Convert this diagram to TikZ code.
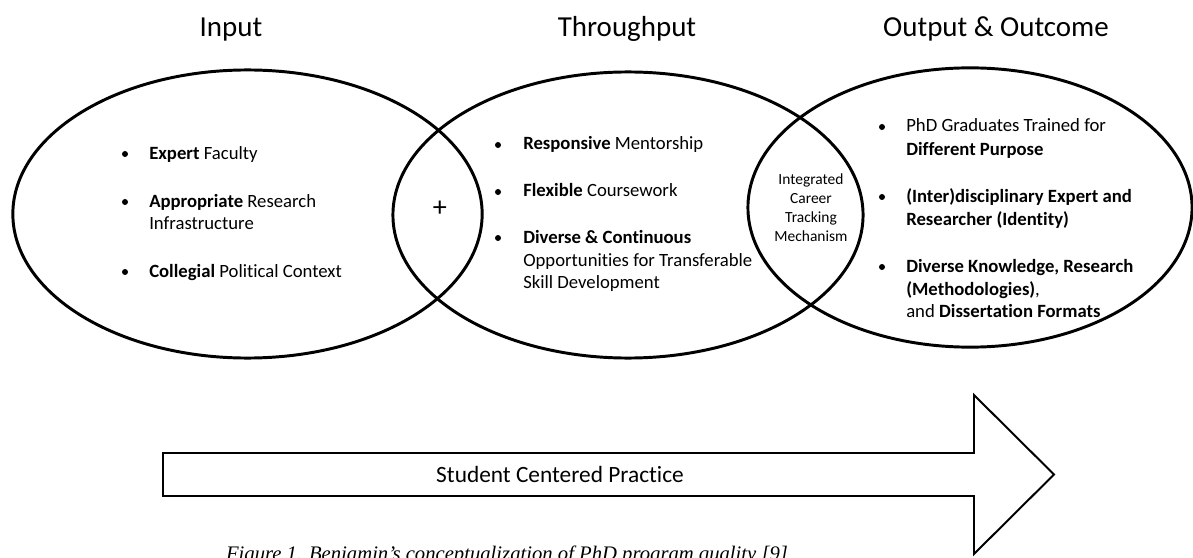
\documentclass[tikz,border=0pt]{standalone}
\usepackage{fontspec}
\setmainfont{Carlito}[Ligatures={TeX,NoCommon}]
\newfontfamily\capfont{Liberation Serif}
\usepackage{tikz}
\usetikzlibrary{shapes.geometric}

\tikzset{
  ring/.style={draw, ellipse, line width=2.1pt, inner sep=0pt},
  heading/.style={font=\fontsize{20.6}{24}\selectfont, anchor=base},
  item/.style={font=\fontsize{13.3}{16}\selectfont, anchor=base west, inner sep=0pt},
  dot/.style={circle, fill, inner sep=0pt, minimum size=0.15cm},
}

\begin{document}
\begin{tikzpicture}[x=0.025cm, y=-0.025cm]
  \path[fill=white, use as bounding box] (0,0) rectangle (1193,558);

  % the three stages
  \node[ring, minimum width=11.73cm, minimum height=7.2cm] (input) at (247.5,214) {};
  \node[ring, minimum width=11.75cm, minimum height=7.15cm] (through) at (628,215) {};
  \node[ring, minimum width=11.1cm, minimum height=6.98cm] (output) at (970,207.5) {};

  \node[heading] (inputtitle) at (231,37) {Input};
  \node[heading] (throughtitle) at (627,37) {Throughput};
  \node[heading] (outputtitle) at (996,37) {Output \& Outcome};

  % input
  \node[dot] (d1) at (125,154) {};
  \node[item] (expert) at (149,159) {\textbf{Expert} Faculty};
  \node[dot] (d2) at (125,202) {};
  \node[item] (infra) at (149,207) {\textbf{Appropriate} Research};
  \node[item] (infrab) at (149,229) {Infrastructure};
  \node[dot] (d3) at (125,272) {};
  \node[item] (context) at (149,277) {\textbf{Collegial} Political Context};

  \node[font=\fontsize{20}{24}\selectfont] (plus) at (440,209) {+};

  % throughput
  \node[dot] (d4) at (498,145) {};
  \node[item] (mentor) at (523,150) {\textbf{Responsive} Mentorship};
  \node[dot] (d5) at (498,192) {};
  \node[item] (course) at (523,197) {\textbf{Flexible} Coursework};
  \node[dot] (d6) at (498,238) {};
  \node[item] (skill) at (523,243) {\textbf{Diverse \& Continuous}};
  \node[item] (skillb) at (523,266) {Opportunities for Transferable};
  \node[item] (skillc) at (523,288) {Skill Development};

  \node[align=center, font=\fontsize{11}{13.5}\selectfont] (career) at (811,208)
    {Integrated\\Career\\Tracking\\Mechanism};

  % output & outcome
  \node[dot] (d7) at (882,127) {};
  \node[item] (grad) at (906,132) {PhD Graduates Trained for};
  \node[item] (gradb) at (906,155) {\textbf{Different Purpose}};
  \node[dot] (d8) at (882,197) {};
  \node[item] (ident) at (906,202) {\textbf{(Inter)disciplinary Expert and}};
  \node[item] (identb) at (906,225) {\textbf{Researcher (Identity)}};
  \node[dot] (d9) at (882,267) {};
  \node[item] (know) at (906,272) {\textbf{Diverse Knowledge, Research}};
  \node[item] (knowb) at (906,295) {\textbf{(Methodologies)},};
  \node[item] (knowc) at (906,317) {and \textbf{Dissertation Formats}};

  % big arrow underneath
  \draw[line width=1.4pt] (163,453) -- (974,453) -- (974,395) -- (1054,474.5)
    -- (974,554) -- (974,496) -- (163,496) -- cycle;
  \node[font=\fontsize{16.6}{20}\selectfont] (practice) at (560,474.5) {Student Centered Practice};

  \node[font=\capfont\itshape\fontsize{14.7}{17}\selectfont, anchor=base] (caption) at (507,560)
    {Figure 1. Benjamin’s conceptualization of PhD program quality [9]};
\end{tikzpicture}
\end{document}
